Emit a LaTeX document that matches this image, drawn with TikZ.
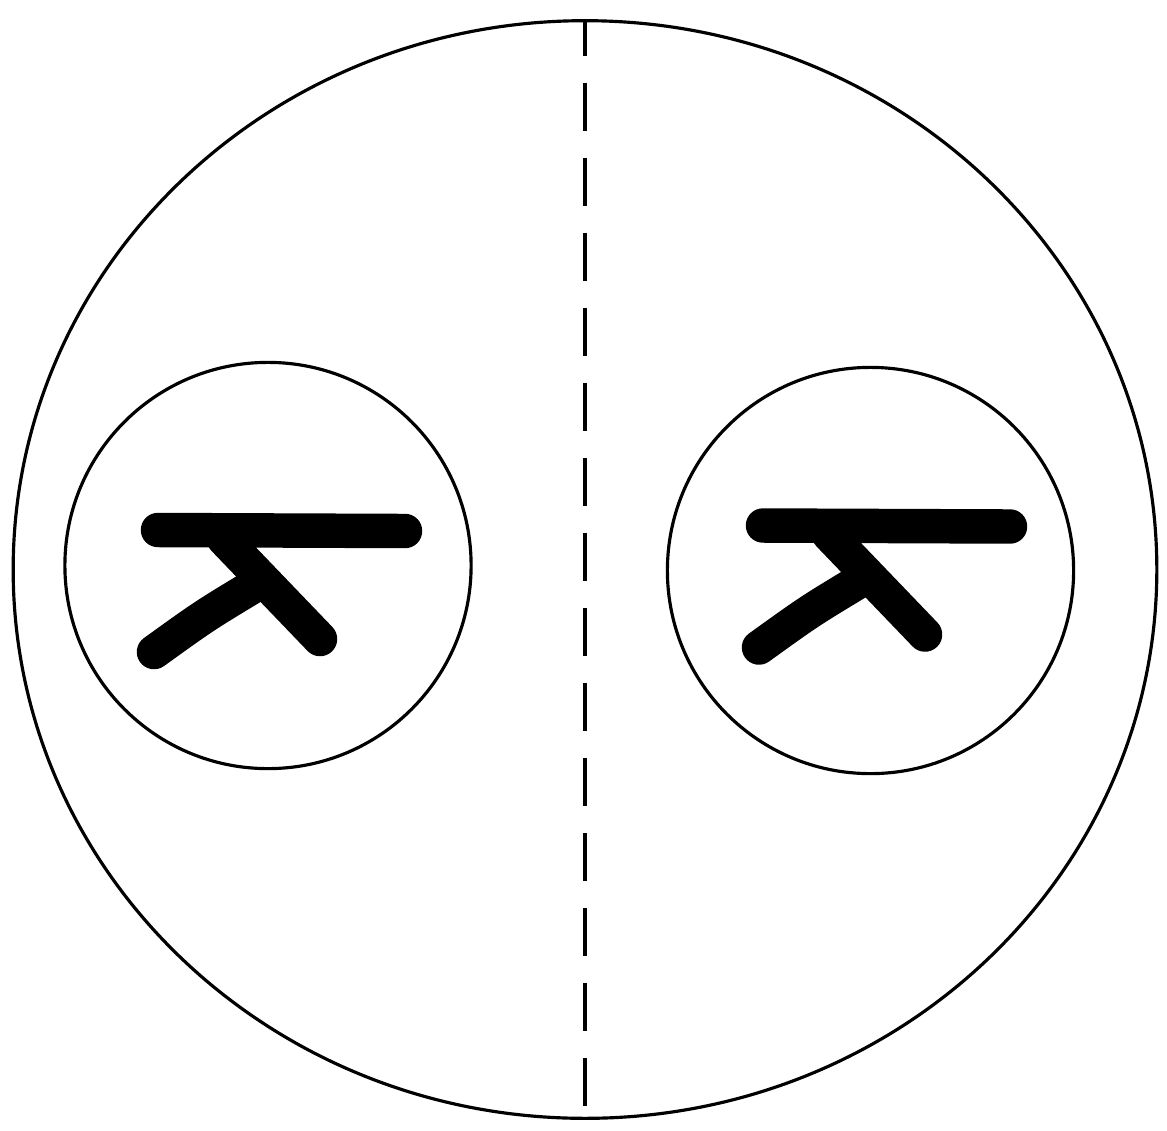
\documentclass[tikz,border=0pt]{standalone}
\usetikzlibrary{shapes.geometric}

\begin{document}
\begin{tikzpicture}[
    x=0.01cm, y=-0.01cm,
    rim/.style={draw, ellipse, line width=0.9pt, inner sep=0pt},
    cell/.style={draw, circle, line width=0.9pt, inner sep=0pt, minimum size=4.06cm},
    divider/.style={line width=1.2pt, dash pattern=on 0.48cm off 0.27cm, dash phase=0.115cm},
    stroke/.style={line width=9.8pt, line cap=round, line join=round},
    glyph/.pic={
        \draw[stroke] (-110,-35) -- (137,-34);
        \draw[stroke] (-44,-26) -- (52,74);
        \draw[stroke] (-16,22) .. controls (-64,51) .. (-114,87);
    },
]
\useasboundingbox (0,0) rectangle (1167,1130);

\node[rim, minimum width=11.43cm, minimum height=10.97cm] (outer) at (585,569.5) {};
\node[cell] (lcell) at (268,565.5) {};
\node[cell] (rcell) at (870.5,570.5) {};
\draw[divider] (outer.north) -- (outer.south);

% the two marks
\pic at (268,565) {glyph};
\pic at (873,560.5) {glyph};
\end{tikzpicture}
\end{document}
